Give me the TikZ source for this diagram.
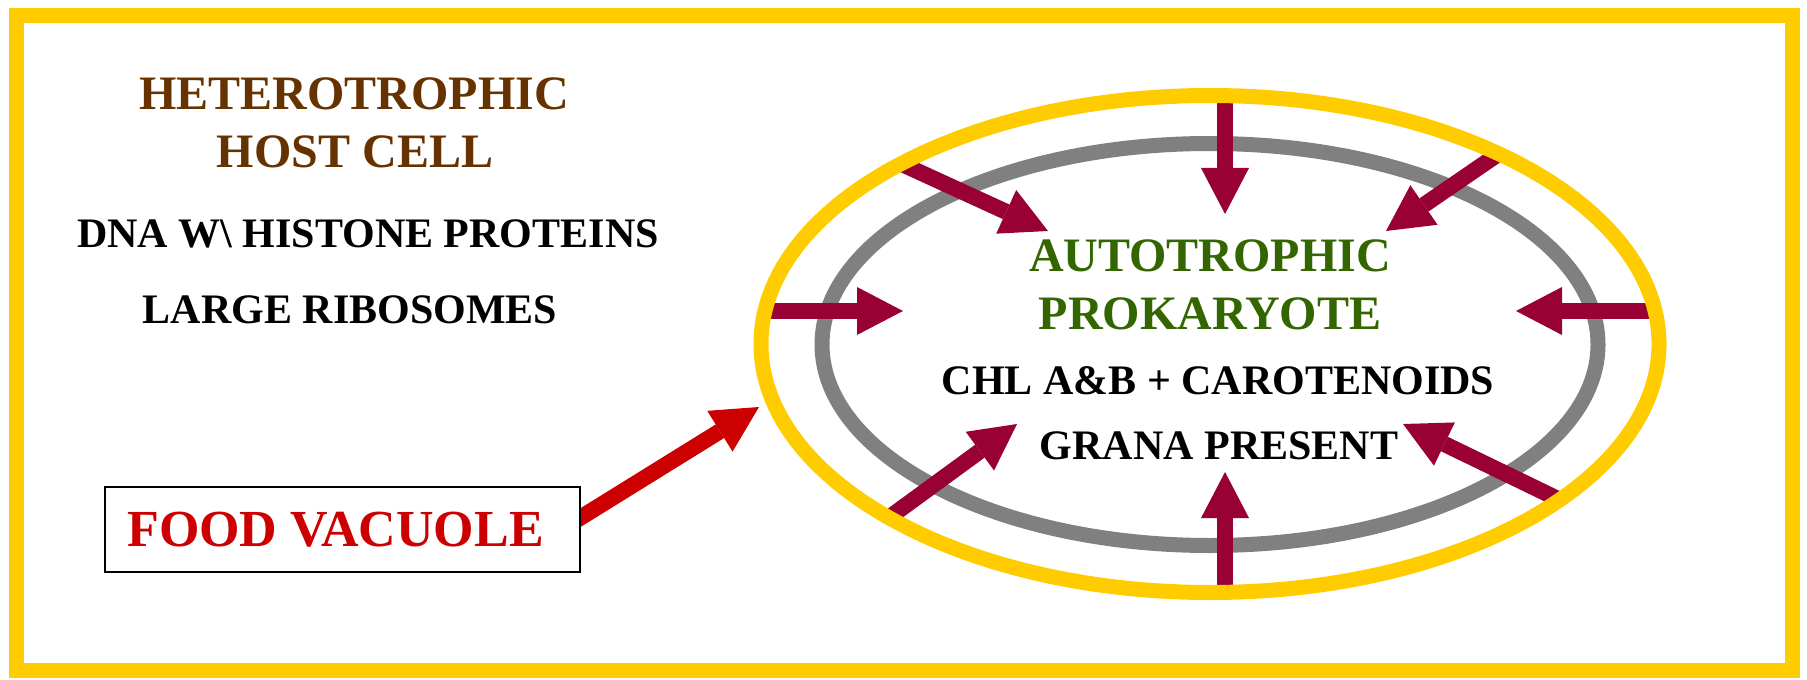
\documentclass[tikz,border=0pt]{standalone}
\usepackage{fontspec}
\setmainfont{Liberation Serif}
\usetikzlibrary{arrows.meta, backgrounds, calc}
\definecolor{hostyellow}{RGB}{255, 204, 0}
\definecolor{wallgray}{RGB}{128, 128, 128}
\definecolor{inmaroon}{RGB}{153, 0, 51}
\definecolor{vacred}{RGB}{204, 0, 0}
\definecolor{hostbrown}{RGB}{102, 51, 0}
\definecolor{autogreen}{RGB}{51, 102, 0}

\begin{document}
\begin{tikzpicture}[x=0.5pt, y=-0.5pt,
    bigtext/.style={font=\bfseries\fontsize{24}{28}\selectfont, anchor=base, inner sep=0pt},
    smalltext/.style={font=\bfseries\fontsize{21}{25}\selectfont, anchor=base, inner sep=0pt},
    fattip/.style={-{Triangle[width=24pt, length=23pt, line width=0pt]}},
    inarrow/.style={fattip, line width=8pt, inmaroon}]
    \useasboundingbox (0,0) rectangle (1807,679);
    \draw[hostyellow, line width=7.5pt] (16,16) rectangle (1792.5,670.5);

    % host cell
    \node[bigtext, hostbrown] (het) at (354,110) {HETEROTROPHIC};
    \node[bigtext, hostbrown] (host) at (355,168) {HOST CELL};
    \node[smalltext] (dna) at (368,248) {DNA W\textbackslash{} HISTONE PROTEINS};
    \node[smalltext] (ribo) at (350,323) {LARGE RIBOSOMES};

    % food vacuole
    \node[draw=black, fill=white, line width=1pt, minimum width=237.5pt, minimum height=42.5pt,
      inner sep=0pt, text=vacred, font=\bfseries\fontsize{26}{30}\selectfont] (vac) at (342.5,529.5) {FOOD VACUOLE\hspace*{7pt}};
    \coordinate (vtip) at (759,407);
    \begin{scope}[on background layer]
      \draw[fattip, line width=8pt, vacred] ($(vac.east)+(-10,-6)$) -- (vtip);
    \end{scope}

    % the engulfed prokaryote
    \draw[wallgray, line width=7.5pt] (1210,344.5) ellipse [x radius=388, y radius=201];
    \foreach \ax/\ay/\bx/\by [count=\k] in {1225/96/1225/214, 1225/592/1225/472,
        761/311/903/311, 1659/311/1516/311,
        904/165/1048/231, 1499/153.5/1386/231,
        887.5/518.7/1017/424, 1561/500.5/1403/424} {
      \coordinate (rim\k) at (\ax,\ay);
      \coordinate (core\k) at (\bx,\by);
      \draw[inarrow] (rim\k) -- (core\k);
    }
    \draw[hostyellow, line width=7.5pt] (1210,344) ellipse [x radius=449, y radius=248.5];

    \node[bigtext, autogreen] (auto) at (1210,271) {AUTOTROPHIC};
    \node[bigtext, autogreen] (prok) at (1210,329.5) {PROKARYOTE};
    \node[smalltext] (chl) at (1218,394.5) {CHL A\&B + CAROTENOIDS};
    \node[smalltext] (grana) at (1219,459) {GRANA PRESENT};
\end{tikzpicture}
\end{document}
